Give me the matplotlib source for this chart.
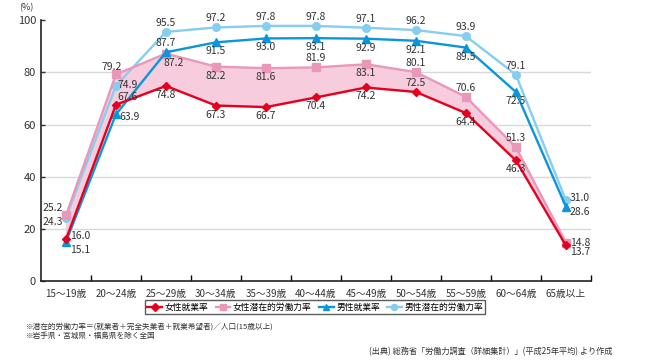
import matplotlib.pyplot as plt
import numpy as np

plt.rcParams['font.family'] = ['Noto Sans CJK JP', 'DejaVu Sans']

ages = ["15〜19歳", "20〜24歳", "25〜29歳", "30〜34歳", "35〜39歳", "40〜44歳",
        "45〜49歳", "50〜54歳", "55〜59歳", "60〜64歳", "65歳以上"]
female_emp = [16.0, 67.6, 74.8, 67.3, 66.7, 70.4, 74.2, 72.5, 64.4, 46.3, 13.7]
female_pot = [25.2, 79.2, 87.2, 82.2, 81.6, 81.9, 83.1, 80.1, 70.6, 51.3, 14.8]
male_emp = [15.1, 63.9, 87.7, 91.5, 93.0, 93.1, 92.9, 92.1, 89.5, 72.5, 28.6]
male_pot = [24.3, 74.9, 95.5, 97.2, 97.8, 97.8, 97.1, 96.2, 93.9, 79.1, 31.0]

# label placement (pixel offsets) per point
A, B = 9, -9
off_fe = [(14, 3), (12, 8), (0, B), (0, B), (0, B), (0, B), (0, B), (0, A), (0, B), (0, B), (14, -7)]
off_fp = [(-13, 7), (-4, 7), (8, B), (0, B), (0, B), (0, A), (0, B), (0, A), (0, A), (0, A), (14, 0)]
off_me = [(14, -8), (14, -3), (0, A), (0, B), (0, B), (0, B), (0, B), (0, B), (0, B), (0, B), (14, -5)]
off_mp = [(-13, -4), (12, 1), (0, A), (0, A), (0, A), (0, A), (0, A), (0, A), (0, A), (0, A), (14, 2)]

c_fe = '#e6001e'
c_fp = '#ea98ba'
c_fill = '#f7cddd'
c_me = '#0a96dc'
c_mp = '#86cdf0'

fig = plt.figure(figsize=(6.5, 3.6), dpi=100)
ax = fig.add_axes([0.063, 0.219, 0.846, 0.725])
x = np.arange(len(ages))

ax.fill_between(x, female_emp, female_pot, color=c_fill, zorder=1)
for yv in [20, 40, 60, 80]:
    ax.axhline(yv, color='#d9d9d9', lw=1, zorder=0)

series = [
    (male_pot, c_mp, 'o', 5.5, '男性潜在的労働力率', off_mp),
    (female_pot, c_fp, 's', 5.5, '女性潜在的労働力率', off_fp),
    (male_emp, c_me, '^', 6, '男性就業率', off_me),
    (female_emp, c_fe, 'D', 4.5, '女性就業率', off_fe),
]
handles = {}
for vals, col, mk, ms, name, offs in series:
    h, = ax.plot(x, vals, color=col, marker=mk, ms=ms, lw=1.7, label=name,
                 zorder=3, clip_on=False)
    handles[name] = h
    for xi, v, (dx, dy) in zip(x, vals, offs):
        ax.annotate(f'{v:.1f}', (xi, v), xytext=(dx, dy), textcoords='offset pixels',
                    ha='center', va='center', fontsize=7.5, color='#333333', zorder=5)

ax.set_xlim(-0.5, 10.5)
ax.set_ylim(0, 100)
ax.set_yticks([0, 20, 40, 60, 80, 100])
ax.set_xticks(x)
ax.set_xticklabels(ages, fontsize=7, color='#333333')
ax.set_xticks(np.arange(0.5, 11, 1), minor=True)
ax.tick_params(axis='x', which='major', length=0, pad=6)
ax.tick_params(axis='x', which='minor', direction='in', length=4, width=1)
ax.tick_params(axis='y', direction='in', length=3, width=1, labelsize=8, colors='#333333')
ax.spines['top'].set_visible(False)
ax.spines['right'].set_visible(False)
for s in ['left', 'bottom']:
    ax.spines[s].set_color('#222222')
    ax.spines[s].set_linewidth(1.2)

fig.text(0.03, 0.978, '(%)', fontsize=6.5, color='#333333', va='center')

order = ['女性就業率', '女性潜在的労働力率', '男性就業率', '男性潜在的労働力率']
leg = fig.legend([handles[n] for n in order], order, ncol=4, loc='center',
                 bbox_to_anchor=(0.485, 0.147), fontsize=6.3, frameon=True, fancybox=False,
                 handlelength=1.7, columnspacing=0.8, handletextpad=0.3,
                 borderpad=0.25, markerscale=0.8)
leg.get_frame().set_edgecolor('#333333')
leg.get_frame().set_linewidth(1)

fig.text(0.04, 0.092, '※潜在的労働力率＝(就業者＋完全失業者＋就業希望者)／人口(15歳以上)',
         fontsize=5.5, color='#333333', va='center')
fig.text(0.04, 0.067, '※岩手県・宮城県・福島県を除く全国',
         fontsize=5.5, color='#333333', va='center')
fig.text(0.942, 0.024, '(出典) 総務省「労働力調査（詳細集計）」(平成25年平均) より作成',
         fontsize=5.9, color='#333333', va='center', ha='right')

fig.savefig('out.png', dpi=100)
